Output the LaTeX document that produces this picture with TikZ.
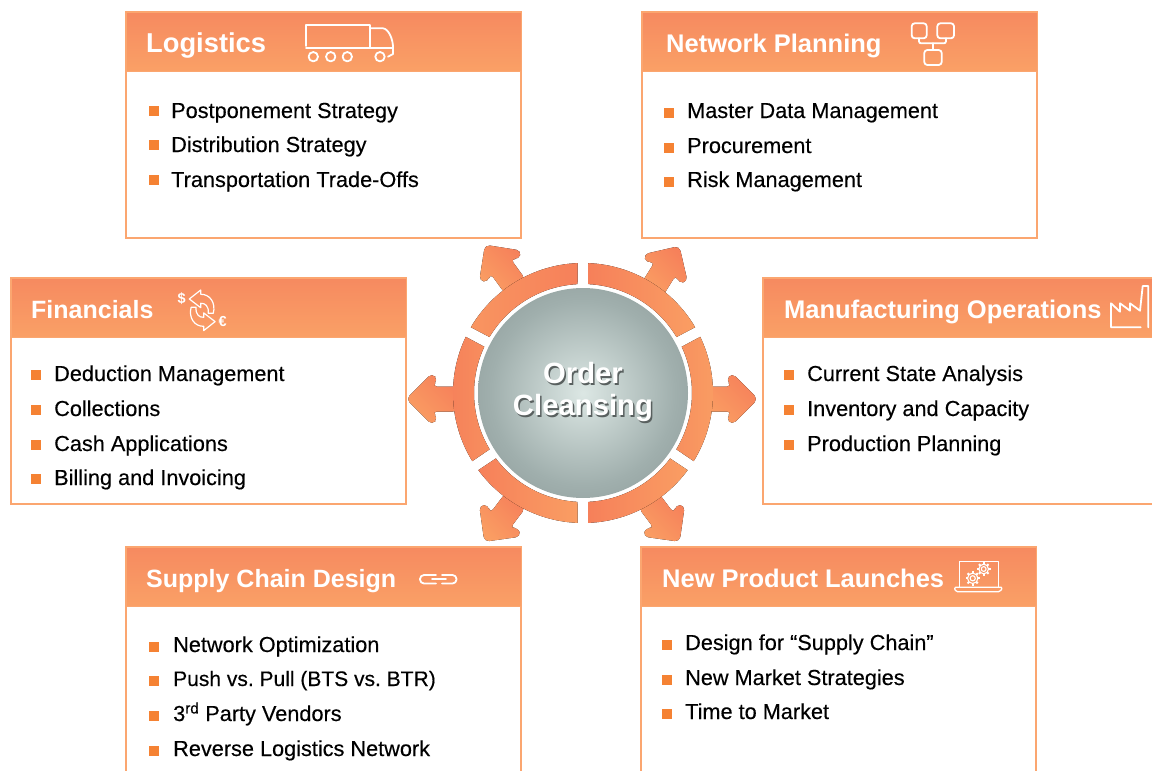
\documentclass[tikz,border=0pt]{standalone}
\usepackage{fontspec}
\setmainfont{Liberation Sans}
\newfontfamily\itemfont[FakeBold=0.3]{Liberation Sans}
\usetikzlibrary{calc}
\definecolor{headtop}{HTML}{F68A60}
\definecolor{headbottom}{HTML}{FAA066}
\definecolor{panelline}{HTML}{FBA670}
\definecolor{bulletcol}{HTML}{F58233}
\definecolor{ringdark}{HTML}{F6805A}
\definecolor{ringmid}{HTML}{F78F5E}
\definecolor{ringlight}{HTML}{FA9E63}
\definecolor{hubmid}{HTML}{A0AFAD}
\definecolor{hubinner}{HTML}{DCE7E4}
\definecolor{hubouter}{HTML}{7F8C8B}
\definecolor{hubshadow}{HTML}{59605F}
\pgfdeclareradialshading{hubshade}{\pgfpoint{0bp}{0bp}}{color(0bp)=(hubinner); color(22bp)=(hubmid); color(42bp)=(hubouter); color(50bp)=(hubouter)}
\tikzset{
	panelbody/.style={draw=panelline, line width=2.5pt, fill=white, anchor=north west, inner sep=0, outer sep=0, minimum width=395pt, minimum height=226pt},
	panelhead/.style={draw=panelline, line width=1pt, top color=headtop, bottom color=headbottom, anchor=north west, inner sep=0, outer sep=0, minimum width=395pt, minimum height=59pt},
	paneltitle/.style={anchor=base west, inner sep=0, text=white, font=\fontsize{25.5}{28}\selectfont\bfseries},
	itemtext/.style={anchor=base west, inner sep=0, yshift=-7pt, font=\fontsize{21.7}{24}\selectfont\itemfont\frenchspacing},
	bulletbox/.style={fill=bulletcol, inner sep=0, minimum size=10pt},
	icon/.style={draw=white, line width=1.8pt, line join=round, line cap=round},
	ringseg/.style={left color=ringdark, right color=ringlight},
	ringsegright/.style={left color=ringmid, right color=ringlight},
	ringsegleft/.style={left color=ringdark, right color=ringmid},
	ringsegflip/.style={left color=ringlight!70!ringdark, right color=ringdark},
	blockarrow/.style={top color=ringdark, bottom color=ringlight, shading angle=-45, rounded corners=5pt},
}
\begin{document}
\begin{tikzpicture}[x=1pt, y=-1pt]
	\useasboundingbox (0,0) rectangle (1152,771);
	% panels
	\foreach \px/\py/\pname in {126/12/logistics, 642/12/network, 11/278/financials, 763/278/manufacturing, 126/547/supply, 641/547/launches} {
		\node[panelbody] (\pname body) at (\px,\py) {};
		\node[panelhead] (\pname head) at (\px,\py) {};
	}
	\node[paneltitle, font=\fontsize{27.3}{28}\selectfont\bfseries] (logisticstitle) at (146,52) {Logistics};
	\node[paneltitle] (networktitle) at (666,52) {Network Planning};
	\node[paneltitle, font=\fontsize{25}{28}\selectfont\bfseries] (financialstitle) at (31,318) {Financials};
	\node[paneltitle] (manufacturingtitle) at (784,318) {Manufacturing Operations};
	\node[paneltitle, font=\fontsize{25}{28}\selectfont\bfseries] (supplytitle) at (146,587) {Supply Chain Design};
	\node[paneltitle] (launchestitle) at (662,587) {New Product Launches};
	% lists
	\foreach \y/\txt in {111/Postponement Strategy, 145/Distribution Strategy, 180/Transportation Trade-Offs} {
		\node[bulletbox] (logisticsbullet\y) at (154,\y+.4) {};
		\node[itemtext] (logisticsitem\y) at (171,\y) {\txt};
	}
	\foreach \y/\txt in {111/Master Data Management, 146/Procurement, 180/Risk Management} {
		\node[bulletbox] (networkbullet\y) at (669,\y+1.5) {};
		\node[itemtext] (networkitem\y) at (687,\y) {\txt};
	}
	\foreach \y/\txt in {374/Deduction Management, 409/Collections, 444/Cash Applications, 478/Billing and Invoicing} {
		\node[bulletbox] (financialsbullet\y) at (36,\y+1) {};
		\node[itemtext] (financialsitem\y) at (54,\y) {\txt};
	}
	\foreach \y/\txt in {374/Current State Analysis, 409/Inventory and Capacity, 444/Production Planning} {
		\node[bulletbox] (manufacturingbullet\y) at (789,\y+1) {};
		\node[itemtext] (manufacturingitem\y) at (807,\y) {\txt};
	}
	\foreach \y/\txt in {645/Network Optimization, 679/{\fontsize{21}{24}\selectfont Push vs. Pull (BTS vs. BTR)}, 714/3\textsuperscript{rd} Party Vendors, 749/Reverse Logistics Network} {
		\node[bulletbox] (supplybullet\y) at (154,\y+2) {};
		\node[itemtext] (supplyitem\y) at (173,\y) {\txt};
	}
	\foreach \y/\txt in {643/Design for “Supply Chain”, 678/New Market Strategies, 712/Time to Market} {
		\node[bulletbox] (launchesbullet\y) at (667,\y+2) {};
		\node[itemtext] (launchesitem\y) at (685,\y) {\txt};
	}
	% arrows round the ring
	\foreach \bx/\by/\ang in {712/399/0, 655/285/58, 512/282/126, 452/399/180, 512/505/233, 652/505/307} {
		\begin{scope}[shift={(\bx,\by)}, rotate=\ang]
			\fill[blockarrow] (-6,-12.5) -- (20,-12.5) -- (14,-19) -- (20,-26) -- (46,0) -- (20,26) -- (14,19) -- (20,12.5) -- (-6,12.5) -- cycle;
		\end{scope}
	}
	% ring
	\begin{scope}[shift={(583,393)}]
		\foreach \a/\b/\sty in {-90/-28/ringseg, -28/34/ringsegright, 34/90/ringseg, 90/146/ringseg, 146/208/ringsegleft, 208/270/ringsegflip} {
			\fill[\sty] ({\a+2.4}:130) arc[start angle=\a+2.4, end angle=\b-2.4, radius=130] -- ({\b-2.9}:109) arc[start angle=\b-2.9, end angle=\a+2.9, radius=109] -- cycle;
		}
	\end{scope}
	% hub
	\node[circle, minimum size=210pt, inner sep=0, shading=hubshade] (hub) at (583,393) {};
	\node[align=center, text=hubshadow, inner sep=0, font=\fontsize{29.3}{32}\selectfont\bfseries] (hubshadowtext) at (584.5,393.5) {Order\\Cleansing};
	\node[align=center, text=white, inner sep=0, font=\fontsize{29.3}{32}\selectfont\bfseries] (hubtext) at (583,392) {Order\\Cleansing};
	% truck
	\draw[icon] (306,46) -- (306,25) -- (370,25) -- (370,48);
	\draw[icon] (306,48.3) -- (393,48.3);
	\draw[icon] (370,28.3) -- (383,28.3) .. controls (389,29) and (393,40) .. (393,47) -- (393,54) -- (388,56.7);
	\foreach \wx in {313.3, 330.7, 347.3, 380} \draw[icon] (\wx,56.7) circle[radius=4.7];
	% network
	\draw[icon, rounded corners=3pt] (911.7,23.3) rectangle (926.7,38.3);
	\draw[icon, rounded corners=3pt] (937.3,23.3) rectangle (954,38.3);
	\draw[icon, rounded corners=3pt] (924.3,50) rectangle (941.7,65);
	\draw[icon, rounded corners=2pt] (919,38.3) -- (919,43.3) -- (946,43.3) -- (946,38.3);
	\draw[icon] (932.7,43.3) -- (932.7,50);
	% factory
	\draw[icon] (1140.7,327.3) -- (1111,327.3) -- (1111,303.3) -- (1120,311.7) -- (1120,303.3) -- (1130,310.7) -- (1130,303.3) -- (1140,310.7) -- (1142.7,286) -- (1148.3,286) -- (1148.3,327.3);
	% currency
	\node[text=white, inner sep=0, font=\fontsize{14.5}{14}\selectfont\bfseries] (dollar) at (181.7,299) {\$};
	\node[text=white, inner sep=0, font=\fontsize{14.5}{14}\selectfont\bfseries] (euro) at (222.7,321.7) {€};
	\foreach \rot in {0,180} {
		\begin{scope}[rotate around={\rot:(202.2,310.3)}]
			\draw[icon, line width=1.2pt] (189.3,299) -- (200.7,290) -- (200.7,294.3) .. controls (210,294) and (216,303) .. (213.3,313.3) -- (208.3,313.3) .. controls (209,306) and (205,303) .. (200.7,303.3) -- (200.7,307.7) -- cycle;
		\end{scope}
	}
	% laptop
	\draw[icon, line width=1.3pt] (959.3,587.3) -- (959.3,561.7) -- (998.3,561.7) -- (998.3,587.3);
	\draw[icon, line width=1.3pt, rounded corners=1.5pt] (954,587.3) -- (1002.7,587.3) -- (1000,591.7) -- (956,591.7) -- cycle;
	\foreach \gx/\gy/\gr in {972.7/578.3/5.2, 983.7/569/4.8} {
		\begin{scope}[shift={(\gx,\gy)}]
			\draw[icon, line width=1.1pt] (0,0) circle[radius=\gr];
			\draw[icon, line width=1.1pt] (0,0) circle[radius=\gr/2];
			\foreach \a in {0,45,...,315} \draw[icon, line width=2pt, line cap=butt] (\a:\gr) -- (\a:\gr+2);
		\end{scope}
	}
	% chain
	\draw[icon, rounded corners=4pt] (436,575) -- (420,575) -- (420,583.5) -- (436,583.5);
	\draw[icon, rounded corners=4pt] (442,575) -- (456.5,575) -- (456.5,583.5) -- (442,583.5);
	\draw[icon] (432,579.3) -- (446,579.3);
\end{tikzpicture}
\end{document}
